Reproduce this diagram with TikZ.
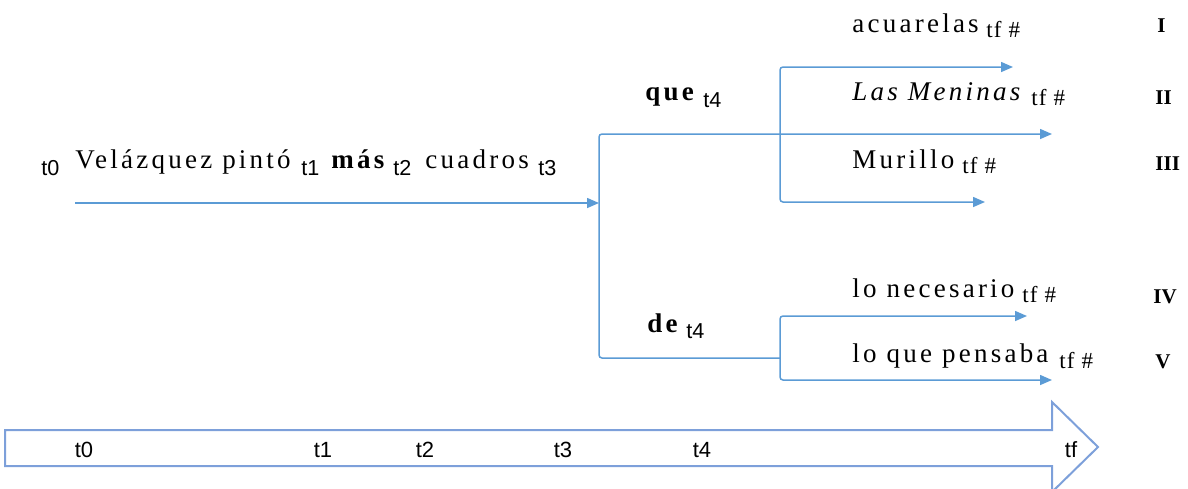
\documentclass[tikz,border=0pt]{standalone}
\usepackage{fontspec}
\setmainfont{Liberation Serif}
\newfontfamily\spc{Liberation Serif}[LetterSpace=12]
\newfontfamily\spt{Liberation Serif}[LetterSpace=5]
\newfontfamily\arl{Liberation Sans}
\usetikzlibrary{arrows.meta}
\definecolor{lblue}{RGB}{91,155,213}
\definecolor{oblue}{RGB}{125,160,218}
\tikzset{
  txt/.style={anchor=base west, inner sep=0pt, font=\spc\fontsize{13.5pt}{16pt}\selectfont},
  sub/.style={anchor=base west, inner sep=0pt, font=\arl\fontsize{10.8pt}{12pt}\selectfont},
  tfl/.style={anchor=base west, inner sep=0pt, font=\spt\fontsize{11.5pt}{13pt}\selectfont},
  rom/.style={anchor=base west, inner sep=0pt, font=\bfseries\fontsize{10.5pt}{12pt}\selectfont},
  axl/.style={anchor=base, inner sep=0pt, font=\arl\fontsize{11pt}{13pt}\selectfont},
  flow/.style={draw=lblue, line width=0.75pt, rounded corners=1.5pt,
    -{Triangle[length=6pt,width=5pt]}},
  flow2/.style={draw=lblue, line width=0.75pt, rounded corners=1.5pt,
    {Triangle[length=6pt,width=5pt]}-{Triangle[length=6pt,width=5pt]}},
}
\begin{document}
\begin{tikzpicture}[x=0.5pt,y=-0.5pt]
\useasboundingbox (0,0) rectangle (1188,488);
% main sentence
\node[sub] (t0) at (41,175) {t0};
\node[txt] (vp) at (75,168) {Velázquez pintó};
\node[sub] (t1) at (301,175) {t1};
\node[txt,font=\spc\bfseries\fontsize{13.5pt}{16pt}\selectfont] (mas) at (331,168) {más};
\node[sub] (t2) at (393,175) {t2};
\node[txt] (cu) at (425,168) {cuadros};
\node[sub] (t3) at (538,175) {t3};
% que / de
\node[txt,font=\spc\bfseries\fontsize{13.5pt}{16pt}\selectfont] (que) at (645,100) {que};
\node[sub] (t4a) at (703,107) {t4};
\node[txt,font=\spc\bfseries\fontsize{13.5pt}{16pt}\selectfont] (de) at (647,332) {de};
\node[sub] (t4b) at (686,338) {t4};
% endings
\node[txt] (acu) at (852,32) {acuarelas};
\node[tfl] (tfa) at (986,37) {tf \#};
\node[txt,font=\spc\itshape\fontsize{13.5pt}{16pt}\selectfont] (lm) at (852,100) {Las Meninas};
\node[tfl] (tfb) at (1031,105) {tf \#};
\node[txt] (mu) at (852,168) {Murillo};
\node[tfl] (tfc) at (962,173) {tf \#};
\node[txt] (ln) at (852,297) {lo necesario};
\node[tfl] (tfd) at (1022,302) {tf \#};
\node[txt] (lq) at (852,362) {lo que pensaba};
\node[tfl] (tfe) at (1059,368) {tf \#};
% roman numerals
\node[rom] (r1) at (1157,32) {I};
\node[rom] (r2) at (1155,104) {II};
\node[rom] (r3) at (1155,170) {III};
\node[rom] (r4) at (1153,303) {IV};
\node[rom] (r5) at (1155,368) {V};
% connectors
\coordinate (s0) at (75,203);
\coordinate (j0) at (599,203);
\coordinate (jq) at (599,134);
\coordinate (jd) at (599,358);
\coordinate (eq) at (1052,134);
\coordinate (fd) at (780,358);
\coordinate (u1) at (780,67);
\coordinate (u2) at (780,202);
\coordinate (ea) at (1013,67);
\coordinate (em) at (985,202);
\coordinate (l1) at (780,316);
\coordinate (l2) at (780,380);
\coordinate (en) at (1027,316);
\coordinate (ep) at (1052,380);
\draw[flow] (s0) -- (j0);
\draw[flow] (fd) -- (jd) -- (jq) -- (eq);
\draw[flow2] (ea) -- (u1) -- (u2) -- (em);
\draw[flow2] (en) -- (l1) -- (l2) -- (ep);
% timeline arrow
\draw[draw=oblue, line width=1pt, line join=miter]
  (5,430) -- (1052,430) -- (1052,402) -- (1098,447) -- (1052,492) -- (1052,466) -- (5,466) -- cycle;
\node[axl] (a0) at (84,457) {t0};
\node[axl] (a1) at (323,457) {t1};
\node[axl] (a2) at (425,457) {t2};
\node[axl] (a3) at (563,457) {t3};
\node[axl] (a4) at (702,457) {t4};
\node[axl] (af) at (1071,457) {tf};
\end{tikzpicture}
\end{document}
